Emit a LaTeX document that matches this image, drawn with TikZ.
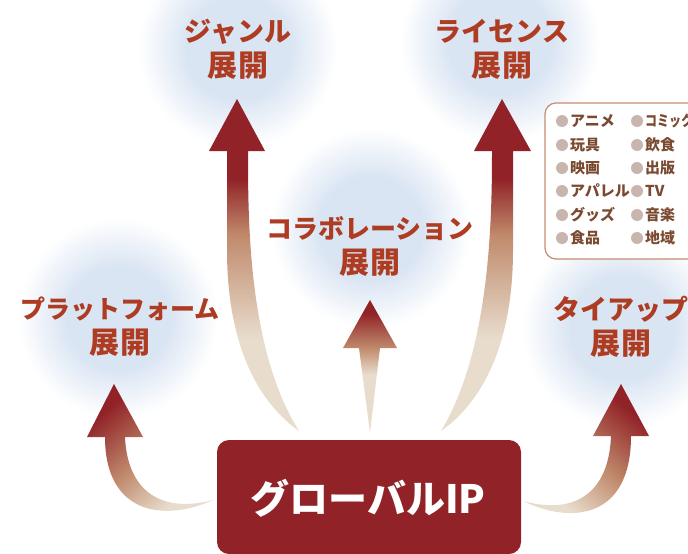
\documentclass[tikz,border=0pt]{standalone}
\usepackage{fontspec}
\setmainfont{Noto Sans CJK JP}[BoldFont={Noto Sans CJK JP Black}]
\definecolor{blobc}{HTML}{DAE5F3}
\definecolor{ipred}{HTML}{912328}
\definecolor{headc}{HTML}{AD3C22}
\definecolor{beige}{HTML}{E8DCCC}
\definecolor{midc}{HTML}{C08A6C}
\definecolor{listc}{HTML}{7A4A30}
\definecolor{dotc}{HTML}{C8B6AE}
\definecolor{framec}{HTML}{C48C70}
\pgfdeclareradialshading{blobshade}{\pgfpoint{0bp}{0bp}}{color(0bp)=(blobc); color(13bp)=(blobc); color(25bp)=(white); color(50bp)=(white)}
\pgfdeclareverticalshading{tallshade}{100bp}{color(0bp)=(beige); color(25bp)=(beige); color(39bp)=(beige); color(54.5bp)=(midc); color(63bp)=(ipred); color(100bp)=(ipred)}
\pgfdeclareverticalshading{midshade}{100bp}{color(0bp)=(beige); color(25bp)=(beige); color(47bp)=(beige); color(57bp)=(midc); color(70bp)=(ipred); color(100bp)=(ipred)}
\pgfdeclareverticalshading{sideshade}{100bp}{color(0bp)=(beige); color(30bp)=(beige); color(50bp)=(midc); color(73bp)=(ipred); color(100bp)=(ipred)}
\newcommand{\tenkai}{{\fontsize{30}{30}\selectfont 展\hspace{1pt}開}}
\tikzset{
  blob/.style={shading=blobshade},
  heading/.style={font=\fontsize{27}{35}\selectfont\bfseries, text=headc, align=center, inner sep=0pt},
  item/.style={font=\fontsize{15}{15}\selectfont\bfseries, text=listc, anchor=west, inner sep=0pt},
  dotmark/.style={circle, fill=dotc, minimum size=12pt, inner sep=0pt},
  ipbox/.style={fill=ipred, rounded corners=12pt, minimum width=304pt, minimum height=114pt, inner sep=0pt},
}
\newcommand{\listitem}[4]{%
  \node[dotmark] (d#1) at (#2-8,#3) {};
  \node[item] (t#1) at (#2,#3) {#4};}
\begin{document}
\begin{tikzpicture}[x=1pt,y=-1pt]
\useasboundingbox (0,0) rectangle (688,554);
\clip (0,0) rectangle (688,554);
% glows
\shade[blob] (238,48) circle (100);
\shade[blob] (500,42) circle (100);
\shade[blob] (371,228) circle (100);
\shade[blob] (118,318) circle (100);
\shade[blob] (622,328) circle (100);
% arrows
\coordinate (tipG) at (237,99);
\coordinate (tailG) at (299,431);
\shade[shading=tallshade] (tipG) -- (265,151) -- (248,151)
  .. controls (248,220) and (248,350) .. (tailG)
  .. controls (255,400) and (227,340) .. (227,250) -- (227,151) -- (209,151) -- cycle;
\coordinate (tipL) at (502,99);
\coordinate (tailL) at (441,431);
\shade[shading=tallshade] (tipL) -- (531,151) -- (513,151) -- (513,250)
  .. controls (513,340) and (485,400) .. (tailL)
  .. controls (490,350) and (492,220) .. (492,151) -- (474,151) -- cycle;
\coordinate (tipC) at (370,300);
\coordinate (tailC) at (370,433);
\shade[shading=midshade] (tipC) -- (397,348) -- (380,348) -- (tailC) -- (359,348) -- (343,348) -- cycle;
\coordinate (tipP) at (114,384);
\coordinate (tailP) at (213,500);
\shade[shading=sideshade, shading angle=40] (tipP) -- (143,437) -- (125,437)
  .. controls (127,485) and (155,515) .. (tailP)
  .. controls (165,522) and (105,515) .. (105,437) -- (87,437) -- cycle;
\coordinate (tipT) at (621,384);
\coordinate (tailT) at (523,501);
\shade[shading=sideshade, shading angle=-40] (tipT) -- (649,436) -- (631,436)
  .. controls (631,520) and (570,524) .. (tailT)
  .. controls (578,516) and (609,490) .. (611,436) -- (593,436) -- cycle;
% box
\node[ipbox] (ip) at (369,497) {};
\node[font=\fontsize{39}{39}\selectfont\bfseries, text=white, inner sep=0pt] (iplabel) at (368,498) {グローバルIP};
% headings
\node[heading] (h1) at (238,49) {ジャンル\\\tenkai};
\node[heading] (h2) at (502,49) {ライセンス\\\tenkai};
\node[heading] (h3) at (370,246) {{\fontsize{26}{35}\selectfont コラボレーション}\\\tenkai};
\node[heading] (h4) at (120,327) {{\fontsize{25}{35}\selectfont プラットフォーム}\\\tenkai};
\node[heading] (h5) at (621,327) {タイアップ\\\tenkai};
% list panel
\draw[framec, line width=1.2pt, fill=white, rounded corners=11pt] (545,103) rectangle (720,259);
\listitem{a}{570}{121}{アニメ}
\listitem{b}{645}{121}{\scalebox{0.8}[1]{コミック}}
\listitem{c}{570}{145}{玩具}
\listitem{d}{645}{145}{飲食}
\listitem{e}{570}{168}{映画}
\listitem{f}{645}{168}{出版}
\listitem{g}{570}{191}{アパレル}
\listitem{h}{645}{191}{TV}
\listitem{i}{570}{215}{グッズ}
\listitem{j}{645}{215}{音楽}
\listitem{k}{570}{238}{食品}
\listitem{l}{645}{238}{地域}
\end{tikzpicture}
\end{document}
